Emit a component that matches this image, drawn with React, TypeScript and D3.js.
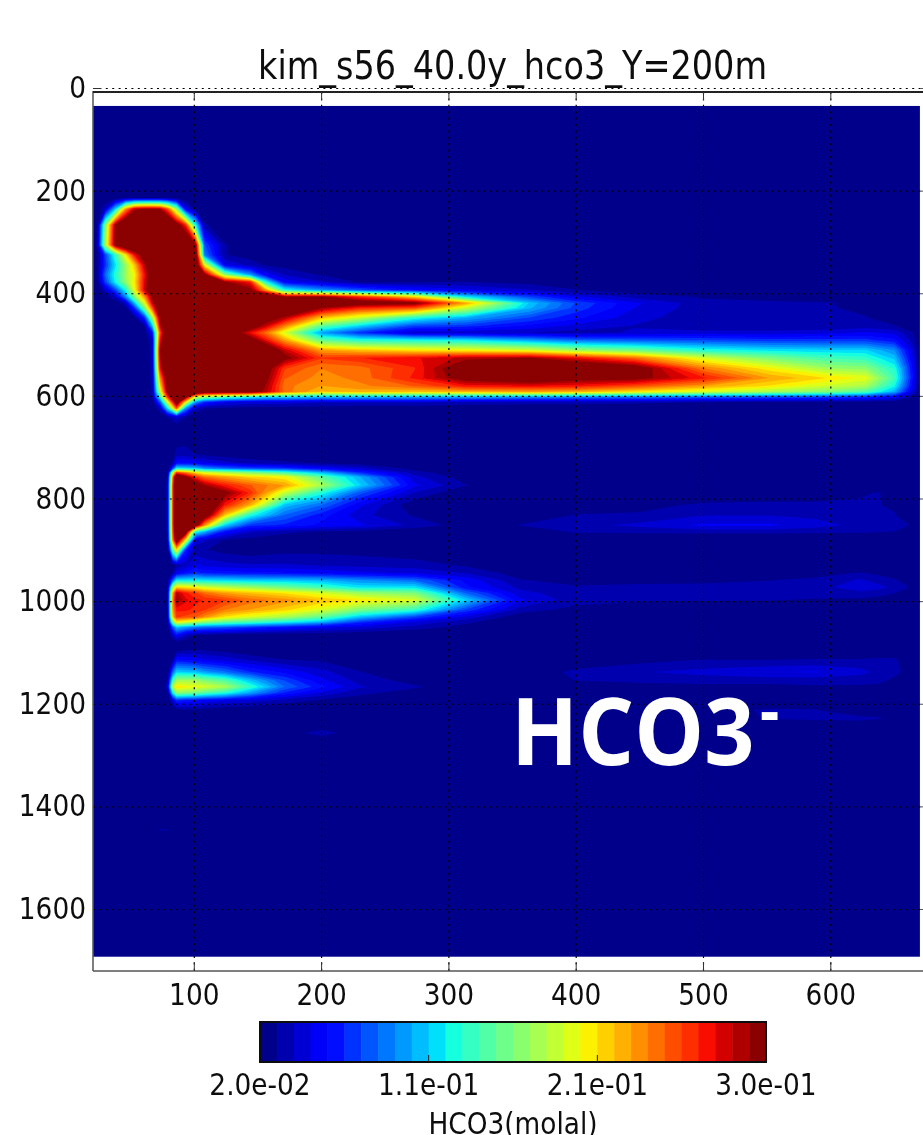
import React from "react";
import * as d3 from "d3";

const width = 923;
const height = 1135;

const xTicks = [100, 200, 300, 400, 500, 600];
const depthTicks = [0, 200, 400, 600, 800, 1000, 1200, 1400, 1600];
const colorbarLabels = ["2.0e-02", "1.1e-01", "2.1e-01", "3.0e-01"];
const colorbarTicks = [10, 20];
const bandCount = 30;
const minValue = 20; // millimolal
const maxValue = 300;

// values are millimolal on an uneven grid
const upperX = [21, 24, 30, 38, 46, 53, 61, 67, 73, 79, 86, 93, 101, 108, 124, 144, 156, 171, 200, 230, 273, 313, 364, 400, 446, 500, 552, 600, 627, 650, 664, 670];
const upperDepth = [34, 213, 235, 266, 305, 324, 344, 363, 377, 393, 406, 418, 428, 447, 463, 476, 490, 510, 525, 545, 564, 580, 591, 601, 611, 623, 640, 666];
const upperValues = [
  [15,15,15,15,15,15,15,15,15,15,15,15,15,15,15,15,15,15,15,15,15,15,15,15,15,15,15,15,15,15,15,15],
  [15,15,18,20,24,26,26,26,26,24,20,18,15,15,15,15,15,15,15,15,15,15,15,15,15,15,15,15,15,15,15,15],
  [15,18,40,115,230,285,295,295,290,250,170,55,25,15,15,15,15,15,15,15,15,15,15,15,15,15,15,15,15,15,15,15],
  [15,28,160,295,340,350,350,350,350,350,310,265,130,32,18,15,15,15,15,15,15,15,15,15,15,15,15,15,15,15,15,15],
  [15,36,175,300,340,350,350,350,350,350,350,345,295,78,30,24,15,15,15,15,15,15,15,15,15,15,15,15,15,15,15,15],
  [15,22,75,135,205,270,310,345,350,350,350,350,320,90,30,24,15,15,15,15,15,15,15,15,15,15,15,15,15,15,15,15],
  [15,26,70,120,170,215,285,330,350,350,350,350,330,200,50,35,28,25,15,15,15,15,15,15,15,15,15,15,15,15,15,15],
  [15,28,85,130,170,200,270,320,350,350,350,350,350,300,170,100,55,38,28,24,15,15,15,15,15,15,15,15,15,15,15,15],
  [15,24,75,125,165,205,275,330,350,350,350,350,350,340,295,265,130,55,40,28,28,30,25,22,15,15,15,15,15,15,15,15],
  [15,18,40,75,125,195,280,330,350,350,350,350,350,350,345,300,230,130,100,80,60,50,40,30,24,20,18,15,15,15,15,15],
  [15,15,22,40,95,160,230,300,345,350,350,350,350,350,350,350,345,295,295,260,210,120,75,50,35,28,26,22,18,15,15,15],
  [15,15,15,20,40,110,195,280,340,350,350,350,350,350,350,350,350,345,330,310,300,225,110,75,50,33,31,30,24,18,15,15],
  [15,15,15,15,25,70,160,250,330,350,350,350,350,350,350,350,350,340,290,260,250,185,105,72,48,33,32,30,27,20,15,15],
  [15,15,15,15,18,25,70,170,300,345,350,350,350,350,350,350,310,285,215,185,130,105,75,60,42,33,31,31,30,24,18,15],
  [15,15,15,15,15,18,30,110,280,340,350,350,350,350,350,315,280,235,150,115,75,70,55,45,38,32,31,32,34,30,22,15],
  [15,15,15,15,15,15,20,60,250,340,350,350,350,350,330,270,240,190,100,70,40,40,38,35,40,42,42,45,50,45,30,15],
  [15,15,15,15,15,15,18,40,270,340,350,350,350,350,350,310,270,225,150,130,125,120,100,85,80,75,70,70,70,60,34,22],
  [15,15,15,15,15,15,19,35,290,345,350,350,350,350,350,350,330,280,225,215,205,200,190,170,155,130,120,115,115,95,45,22],
  [15,15,15,15,15,15,19,35,285,345,350,350,350,350,350,350,340,300,255,262,270,285,292,270,240,190,160,140,135,110,50,22],
  [15,15,15,15,15,15,19,33,270,340,350,350,350,350,350,350,310,255,235,240,262,315,340,330,310,235,200,170,165,130,58,22],
  [15,15,15,15,15,15,19,33,230,320,350,350,350,350,350,350,300,245,230,238,265,305,320,305,300,265,225,205,195,140,60,22],
  [15,15,15,15,15,15,19,32,205,310,350,350,350,350,350,345,290,238,225,232,245,265,270,265,250,225,205,185,175,125,55,22],
  [15,15,15,15,15,15,20,32,180,300,350,350,345,320,310,310,285,240,215,220,215,220,225,220,205,190,175,160,145,105,45,22],
  [15,15,15,15,15,15,25,30,130,260,340,310,190,170,150,130,120,120,110,110,105,105,100,95,90,85,80,75,70,55,30,18],
  [15,15,15,15,15,15,18,22,80,190,320,210,100,70,50,45,45,45,40,40,40,38,35,35,33,30,28,26,24,22,18,15],
  [15,15,15,15,15,15,15,17,40,120,250,100,40,30,28,26,25,25,25,22,22,20,20,20,18,18,18,18,17,15,15,15],
  [15,15,15,15,15,15,15,15,18,30,45,30,22,18,15,15,15,15,15,15,15,15,15,15,15,15,15,15,15,15,15,15],
  [15,15,15,15,15,15,15,15,15,15,15,15,15,15,15,15,15,15,15,15,15,15,15,15,15,15,15,15,15,15,15,15],
];

const lowerX = [21, 73, 79, 83, 86, 93, 101, 108, 124, 144, 171, 200, 230, 273, 313, 356, 400, 450, 500, 552, 587, 623, 638, 650, 660, 670];
const lowerDepth = [666, 681, 714, 730, 740, 749, 757, 773, 788, 812, 831, 851, 864, 880, 899, 929, 944, 958, 972, 983, 997, 1016, 1030, 1040, 1050, 1065, 1079, 1094, 1114, 1137, 1153, 1166, 1178, 1192, 1211, 1227, 1240, 1256, 1270, 1416, 1445, 1474, 1692];
const lowerValues = [
  [15,15,15,15,15,15,15,15,15,15,15,15,15,15,15,15,15,15,15,15,15,15,15,15,15,15],
  [15,15,15,15,22,24,20,20,18,15,15,15,15,15,15,15,15,15,15,15,15,15,15,15,15,15],
  [15,15,15,22,35,35,30,28,25,22,20,18,15,15,15,15,15,15,15,15,15,15,15,15,15,15],
  [15,15,15,32,60,58,56,50,42,36,32,28,24,18,15,15,15,15,15,15,15,15,15,15,15,15],
  [15,15,16,70,120,115,110,95,85,75,70,55,42,25,18,15,15,15,15,15,15,15,15,15,15,15],
  [15,15,25,180,260,240,210,195,180,165,145,110,70,34,20,15,15,15,15,15,15,15,15,15,15,15],
  [15,15,30,230,340,300,260,240,225,210,200,150,105,42,24,15,15,15,15,15,15,15,15,15,15,15],
  [15,15,35,250,350,350,320,290,265,245,225,175,115,50,30,18,15,15,15,15,15,15,18,15,15,15],
  [15,15,35,250,350,350,345,340,300,260,185,130,80,38,20,15,15,15,18,20,25,28,30,20,15,15],
  [15,15,35,250,350,350,350,345,265,220,110,85,50,22,18,15,20,25,32,33,31,31,30,26,16,15],
  [15,15,35,250,350,350,350,320,215,130,85,62,42,28,20,20,30,31,38,38,36,32,30,31,18,15],
  [15,15,33,250,350,350,310,230,115,70,65,55,50,36,24,30,36,41,50,50,43,36,36,35,31,15],
  [15,15,32,245,345,320,130,105,60,40,32,28,25,20,17,20,31,32,33,33,32,31,30,29,20,15],
  [15,15,30,230,320,210,45,40,28,25,20,18,16,15,15,15,15,15,15,15,15,15,15,15,15,15],
  [15,15,20,150,210,70,32,30,25,22,26,26,25,22,18,15,15,15,15,15,15,15,15,15,15,15],
  [15,15,15,25,30,38,50,45,42,40,40,38,36,34,28,15,15,15,15,15,15,15,15,15,15,15],
  [15,15,15,30,50,60,70,65,62,60,58,55,50,46,38,24,16,18,20,22,26,30,27,20,15,15],
  [15,15,25,80,120,118,120,118,115,112,110,105,95,85,55,30,24,26,27,29,31,40,34,31,24,15],
  [15,15,28,170,210,205,200,190,180,170,155,140,120,120,60,36,31,32,32,33,34,45,42,36,31,15],
  [15,15,30,220,285,265,255,240,225,215,205,190,170,160,85,42,33,34,34,34,35,36,34,30,22,15],
  [15,15,30,230,295,275,265,262,255,240,230,215,205,190,115,50,33,31,31,30,28,27,24,20,15,15],
  [15,15,30,225,265,265,260,255,235,225,210,190,160,135,75,34,26,20,15,15,15,15,15,15,15,15],
  [15,15,28,210,255,250,245,230,205,190,175,150,110,75,45,22,15,15,15,15,15,15,15,15,15,15],
  [15,15,25,150,200,190,175,165,150,140,125,105,70,45,32,18,15,15,15,15,15,15,15,15,15,15],
  [15,15,20,80,110,100,90,85,80,70,60,50,45,35,25,15,15,15,15,15,15,15,15,15,15,15],
  [15,15,15,40,60,40,28,28,25,22,22,22,20,18,16,15,15,15,15,15,15,15,15,15,15,15],
  [15,15,15,20,25,22,18,15,15,15,15,15,15,15,15,15,15,15,15,15,15,15,15,15,15,15],
  [15,15,15,15,25,28,30,28,25,20,15,15,15,15,15,15,15,15,15,15,15,15,15,15,15,15],
  [15,15,15,30,60,58,55,50,45,38,30,28,20,15,15,15,18,26,30,30,31,31,33,33,20,15],
  [15,15,20,85,115,112,110,100,88,68,55,42,30,20,16,18,33,38,42,47,49,42,36,34,25,15],
  [15,15,30,135,170,170,170,160,145,110,75,50,35,25,18,15,30,33,34,34,34,33,33,26,18,15],
  [15,15,40,175,205,200,195,190,175,135,85,60,40,31,22,15,15,24,26,26,28,28,26,18,15,15],
  [15,15,25,120,165,160,155,145,130,100,65,45,32,24,18,15,15,15,15,15,15,15,15,15,15,15],
  [15,15,15,45,70,65,60,55,50,45,35,28,24,18,15,15,15,15,15,18,20,15,15,15,15,15],
  [15,15,15,18,25,28,28,25,22,20,18,16,15,15,15,15,15,15,24,31,30,20,18,15,15,15],
  [15,15,15,15,15,15,15,15,15,15,15,15,15,15,15,15,15,15,18,31,32,32,31,20,15,15],
  [15,15,15,15,15,15,15,15,15,15,15,15,15,15,15,15,15,15,15,15,22,25,20,15,15,15],
  [15,15,15,15,15,15,15,15,15,15,20,38,18,15,15,15,15,15,15,15,15,15,15,15,15,15],
  [15,15,15,15,15,15,15,15,15,15,15,15,15,15,15,15,15,15,15,15,15,15,15,15,15,15],
  [15,15,15,15,15,15,15,15,15,15,15,15,15,15,15,15,15,15,15,15,15,15,15,15,15,15],
  [15,30,30,15,15,15,15,15,15,15,15,15,15,15,15,15,15,15,15,15,15,15,15,15,15,15],
  [15,15,15,15,15,15,15,15,15,15,15,15,15,15,15,15,15,15,15,15,15,15,15,15,15,15],
  [15,15,15,15,15,15,15,15,15,15,15,15,15,15,15,15,15,15,15,15,15,15,15,15,15,15],
];

const x = d3.scaleLinear().domain([100, 600]).range([194.3, 830.8]);
const y = d3.scaleLinear().domain([0, 1600]).range([88.5, 909.5]);
const xDomain = [20.5, 670];
const depthDomain = [34, 1692];

// jet, with the ends a little brighter than matplotlib's to match the picture
const jetR = d3.scaleLinear().domain([0, 0.35, 0.66, 0.89, 1]).range([0, 0, 1, 1, 0.545]);
const jetG = d3.scaleLinear().domain([0, 0.125, 0.375, 0.64, 0.91, 1]).range([0, 0, 1, 1, 0, 0]);
const jetB = d3.scaleLinear().domain([0, 0.11, 0.34, 0.65, 1]).range([0.545, 1, 1, 0, 0]);
const jet = (t: number) => d3.rgb(jetR(t) * 255, jetG(t) * 255, jetB(t) * 255).formatHex();

const bands = d3.range(bandCount);
const bandColors = bands.map((i) => jet(i / (bandCount - 1)));
const levels = bands.map((i) => minValue + (i * (maxValue - minValue)) / bandCount);

function contourBands(values: number[][], xs: number[], depths: number[]) {
  const n = xs.length;
  const m = depths.length;
  const ix = d3.scaleLinear().domain(d3.range(n)).range(xs.map((v) => x(v))).clamp(true);
  const iy = d3.scaleLinear().domain(d3.range(m)).range(depths.map((v) => y(v))).clamp(true);
  const path = d3.geoPath(
    d3.geoTransform({
      point(px: number, py: number) {
        this.stream.point(ix(px - 0.5), iy(py - 0.5));
      },
    })
  );
  const contours = d3.contours().size([n, m]).thresholds(levels.slice(1))(values.flat());
  return contours.map((c, i) => ({ d: path(c as any) || "", fill: bandColors[i + 1] }));
}

const upperBands = contourBands(upperValues, upperX, upperDepth);
const lowerBands = contourBands(lowerValues, lowerX, lowerDepth);

const fontFamily = "'DejaVu Sans'";

function Label(props: { x: number; y: number; anchor?: string; children: React.ReactNode }) {
  // the original image is squeezed sideways, so all the text is too
  return (
    <text
      transform={`translate(${props.x},${props.y}) scale(0.88,1)`}
      textAnchor={props.anchor || "middle"}
      fontFamily={fontFamily}
      fontSize={30}
      fill="#111"
    >
      {props.children}
    </text>
  );
}

export default function App() {
  const left = 93;
  const top = 92;
  const bottom = 971;
  const cbar = d3.scaleLinear().domain([0, bandCount]).range([260, 766]);
  const cbarTop = 1022;
  const cbarBottom = 1062;
  const gridDash = "2 4.4";

  return (
    <svg
      width={width}
      height={height}
      viewBox={`0 0 ${width} ${height}`}
      style={{ position: "absolute", left: 0, top: 0, display: "block", background: "#fff" }}
    >
      <defs>
        <filter id="soft" x="0" y="0" width="100%" height="100%">
          <feGaussianBlur stdDeviation="0.5" />
        </filter>
      </defs>
      <g filter="url(#soft)">
        <rect
          x={x(xDomain[0])}
          y={y(depthDomain[0])}
          width={x(xDomain[1]) - x(xDomain[0])}
          height={y(depthDomain[1]) - y(depthDomain[0])}
          fill={bandColors[0]}
        />
        {upperBands.map((b, i) => (
          <path key={"u" + i} d={b.d} fill={b.fill} />
        ))}
        {lowerBands.map((b, i) => (
          <path key={"l" + i} d={b.d} fill={b.fill} />
        ))}

        {/* grid */}
        {xTicks.map((t) => (
          <line key={t} x1={x(t)} x2={x(t)} y1={top} y2={bottom} stroke="#000" strokeWidth={1.2} strokeDasharray={gridDash} />
        ))}
        {depthTicks.map((t) => (
          <line key={t} x1={left} x2={width} y1={y(t)} y2={y(t)} stroke="#000" strokeWidth={1.2} strokeDasharray={gridDash} />
        ))}

        {/* frame and ticks */}
        <line x1={left} x2={left} y1={top - 1} y2={bottom} stroke="#555" strokeWidth={1.5} />
        <line x1={left} x2={width} y1={top} y2={top} stroke="#222" strokeWidth={2} />
        <line x1={left} x2={width} y1={bottom} y2={bottom} stroke="#555" strokeWidth={1.5} />
        {xTicks.map((t) => (
          <g key={t} stroke="#333" strokeWidth={1}>
            <line x1={x(t)} x2={x(t)} y1={bottom} y2={bottom - 9} />
            <line x1={x(t)} x2={x(t)} y1={top} y2={top + 8} />
          </g>
        ))}
        <line x1={left} x2={left + 8} y1={y(0)} y2={y(0)} stroke="#333" strokeWidth={1} />
        {depthTicks.map((t) => (
          <line key={t} x1={width - 2.5} x2={width} y1={y(t)} y2={y(t)} stroke="#555" strokeWidth={1} />
        ))}

        {xTicks.map((t) => (
          <Label key={t} x={x(t)} y={1005}>
            {t}
          </Label>
        ))}
        {depthTicks.map((t) => (
          <Label key={t} x={86} y={y(t) + 9.5} anchor="end">
            {t}
          </Label>
        ))}

        <text
          x={258}
          y={79}
          fontFamily={fontFamily}
          fontSize={39}
          fill="#111"
          textLength={509}
          lengthAdjust="spacingAndGlyphs"
        >
          kim_s56_40.0y_hco3_Y=200m
        </text>

        {/* colorbar */}
        {bands.map((i) => (
          <rect
            key={i}
            x={cbar(i)}
            y={cbarTop}
            width={cbar(i + 1) - cbar(i) + 0.5}
            height={cbarBottom - cbarTop}
            fill={bandColors[i]}
          />
        ))}
        <rect
          x={cbar(0)}
          y={cbarTop}
          width={cbar(bandCount) - cbar(0)}
          height={cbarBottom - cbarTop}
          fill="none"
          stroke="#111"
          strokeWidth={2}
        />
        {colorbarTicks.map((t) => (
          <line key={t} x1={cbar(t)} x2={cbar(t)} y1={cbarBottom} y2={cbarBottom - 7} stroke="#222" strokeWidth={1} />
        ))}
        {colorbarLabels.map((s, i) => (
          <Label key={s} x={cbar((i * bandCount) / 3)} y={1095}>
            {s}
          </Label>
        ))}
        <Label x={513} y={1134}>
          HCO3(molal)
        </Label>

        {/* annotation pasted over the figure */}
        <text
          transform="translate(511,765) scale(0.935,1)"
          fontFamily="'Open Sans'"
          fontWeight={700}
          fontSize={94}
          fill="#fff"
        >
          HCO3
          <tspan dy={-32} dx={6} fontSize={64}>
            -
          </tspan>
        </text>
      </g>
    </svg>
  );
}
